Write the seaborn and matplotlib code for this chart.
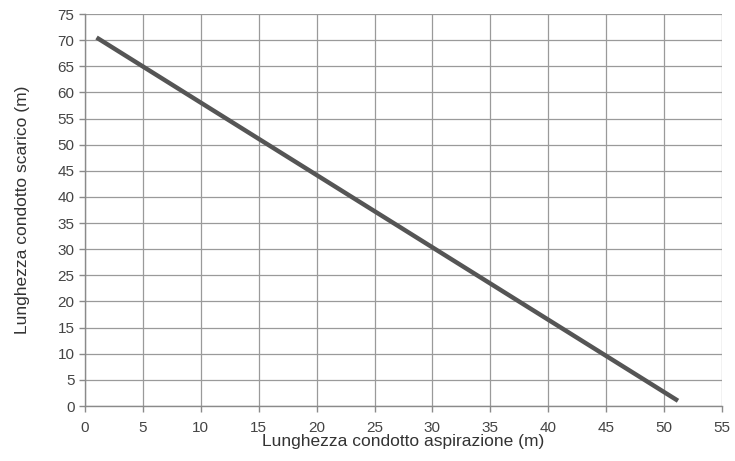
import numpy as np
import pandas as pd
import matplotlib
matplotlib.use("Agg")
import matplotlib.pyplot as plt
import seaborn as sns

# Dati
aspirazione = [1.0, 51.2]
scarico = [70.5, 1.0]
x_ticks = list(range(0, 56, 5))
y_ticks = list(range(0, 76, 5))

df = pd.DataFrame({'aspirazione': aspirazione, 'scarico': scarico})

sns.set_style("white")
plt.rcParams['font.family'] = ['Liberation Sans', 'DejaVu Sans']

fig = plt.figure(figsize=(7.35, 4.61), dpi=100)
ax = fig.add_axes([0.1156, 0.1193, 0.8667, 0.8503])

sns.lineplot(data=df, x='aspirazione', y='scarico', ax=ax, color='#555555',
             linewidth=3.2, solid_capstyle='butt')

ax.set_xlim(0, 55)
ax.set_ylim(0, 75)
ax.set_xticks(x_ticks)
ax.set_yticks(y_ticks)
ax.grid(True, color='#9a9a9a', linewidth=0.9)
ax.set_axisbelow(True)
for s in ['top', 'right']:
    ax.spines[s].set_visible(False)
for s in ['left', 'bottom']:
    ax.spines[s].set_color('#8a8a8a')
    ax.spines[s].set_linewidth(1.0)
ax.tick_params(axis='both', length=4, width=1, color='#8a8a8a',
               labelsize=11, labelcolor='#444444', direction='out',
               bottom=True, left=True)
ax.tick_params(axis='x', pad=7)

ax.set_xlabel('Lunghezza condotto aspirazione (m)', fontsize=12.5, color='#333333', labelpad=-1)
ax.set_ylabel('Lunghezza condotto scarico (m)', fontsize=12.5, color='#333333', labelpad=20)

fig.savefig('out.png', dpi=100)
